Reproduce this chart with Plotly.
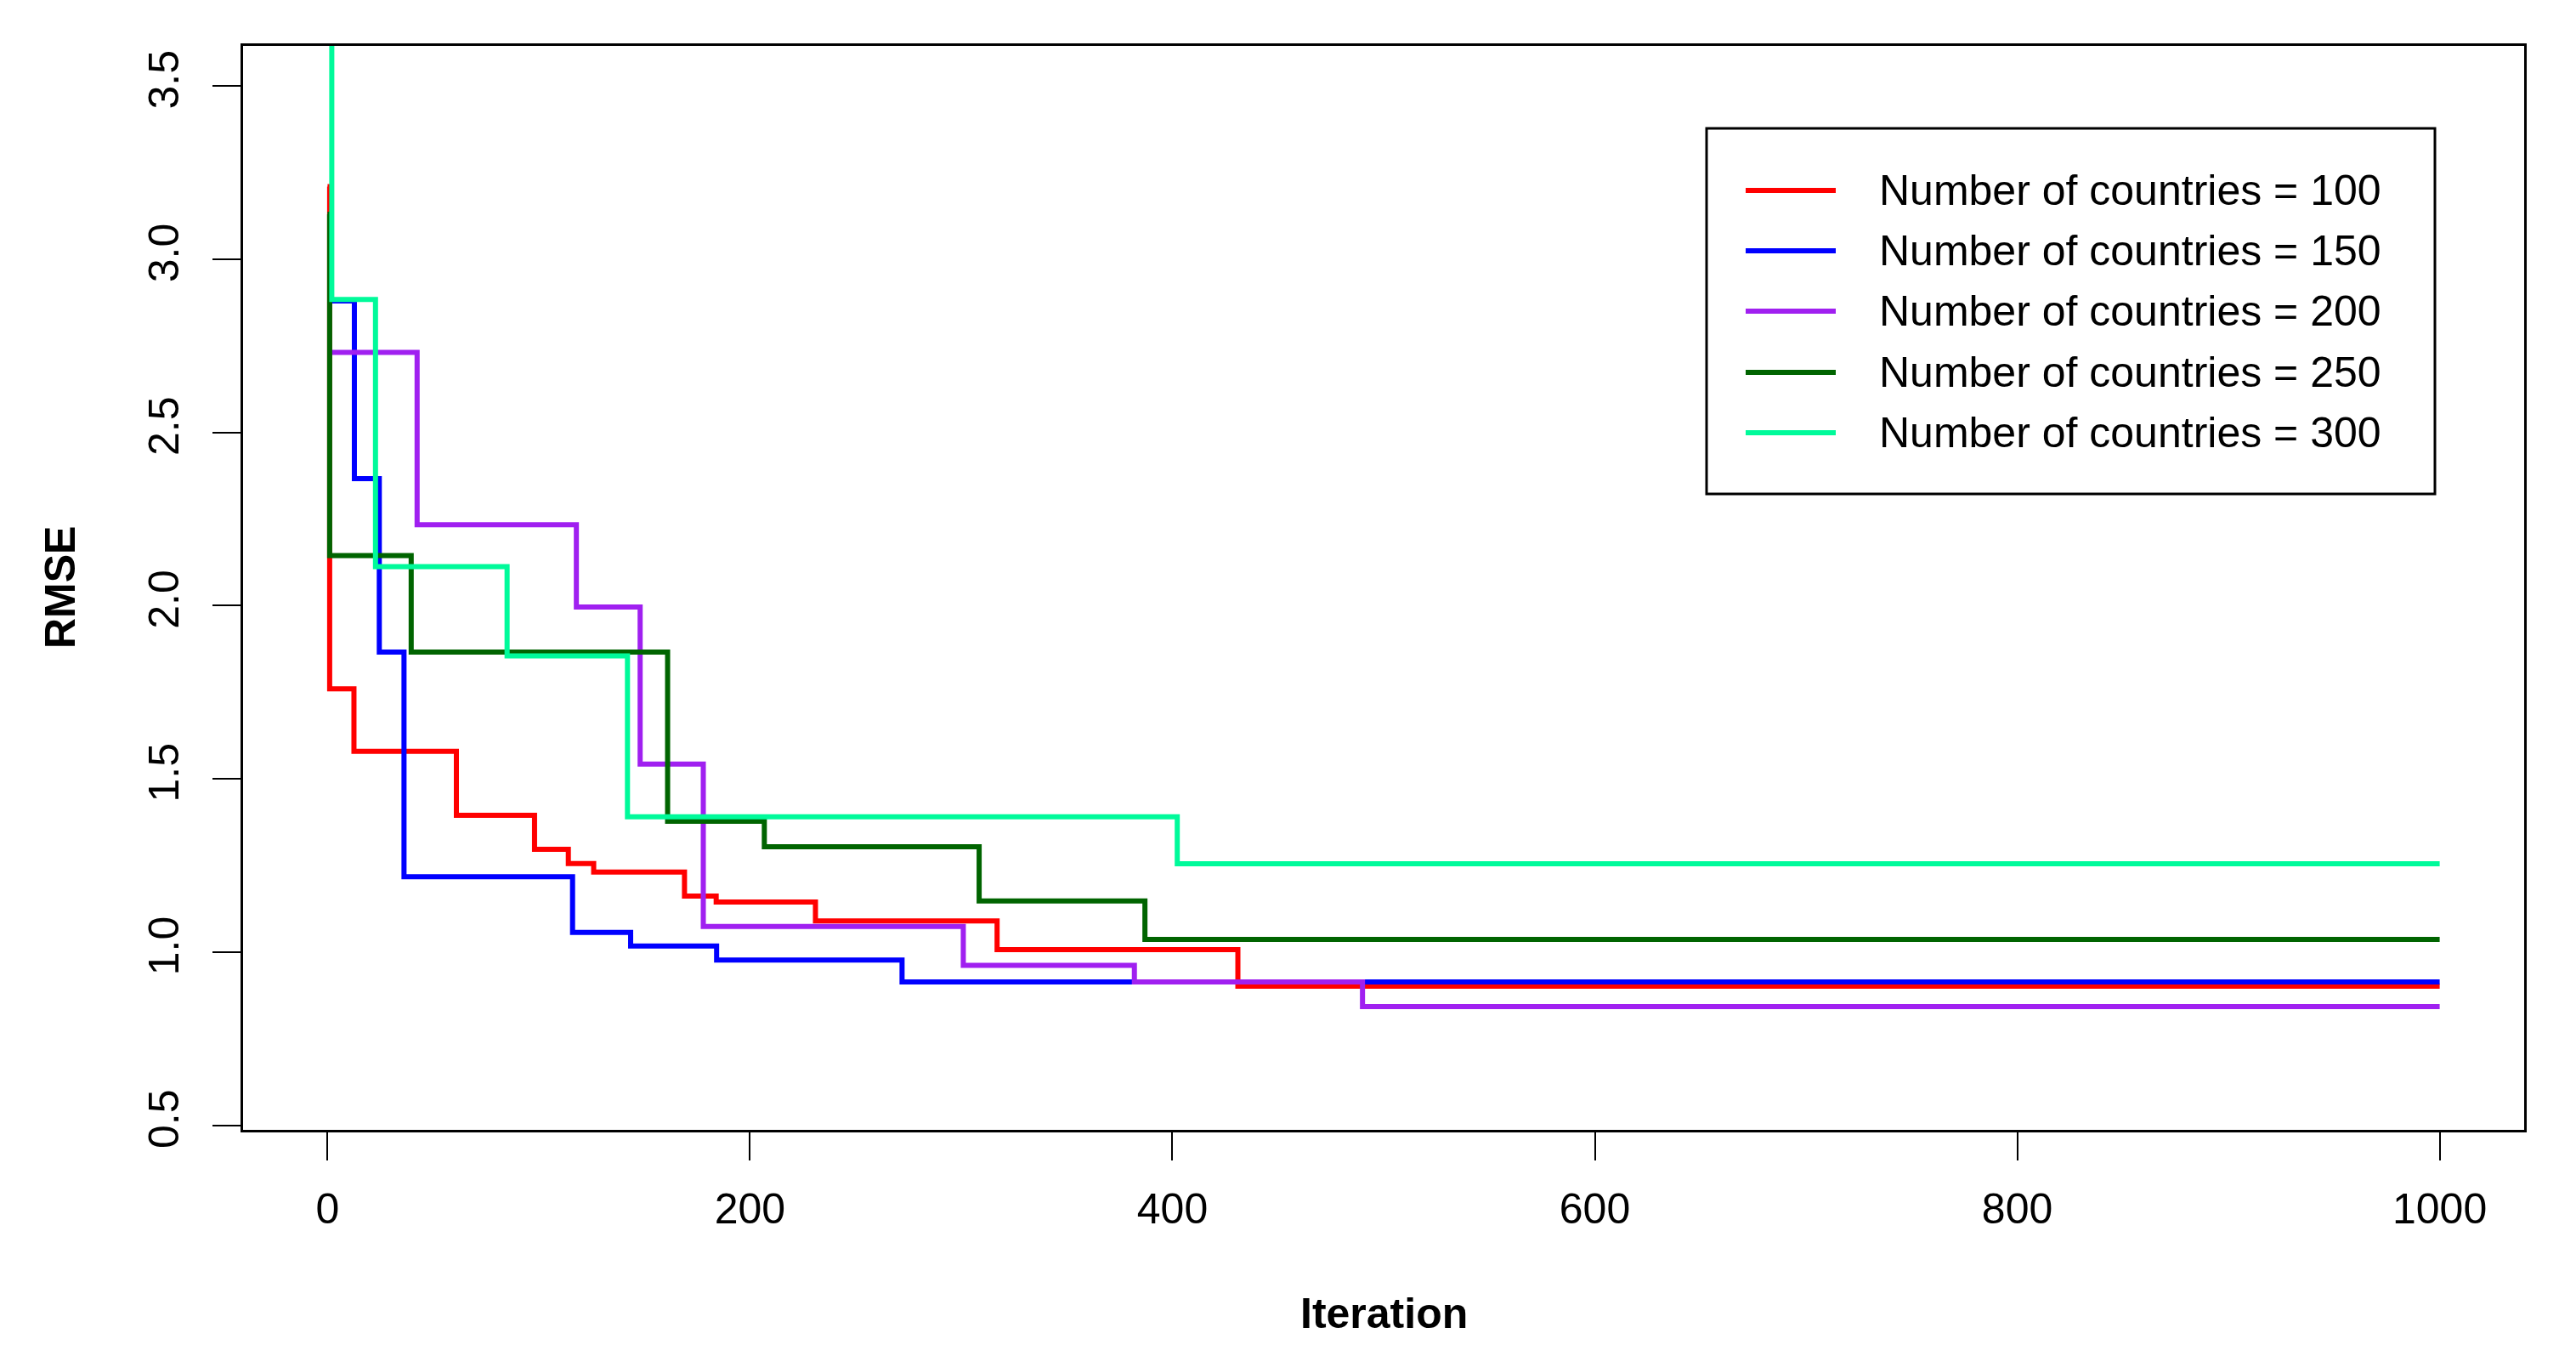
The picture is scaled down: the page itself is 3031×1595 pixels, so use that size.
import plotly.graph_objects as go

# ---- data ----
labels = ["Number of countries = 100", "Number of countries = 150", "Number of countries = 200",
          "Number of countries = 250", "Number of countries = 300"]
colors = ["#FF0000", "#0000FF", "#A020F0", "#006400", "#00FA9A"]

red_x = [0, 1, 12.5, 61, 98, 114, 126, 169, 184, 231, 317, 431, 1000]
red_y = [3.21, 1.76, 1.58, 1.395, 1.297, 1.256, 1.231, 1.162, 1.145, 1.09, 1.007, 0.902, 0.902]

blue_x = [0, 12.7, 24.5, 36.2, 116, 143.5, 184.2, 272, 1000]
blue_y = [2.88, 2.367, 1.866, 1.218, 1.057, 1.018, 0.977, 0.914, 0.914]

purple_x = [0, 42.4, 117.8, 148, 177.9, 301, 382, 490, 1000]
purple_y = [2.731, 2.234, 1.996, 1.543, 1.074, 0.962, 0.914, 0.843, 0.843]

green_x = [0, 1, 39.6, 161, 206.8, 308.5, 387, 1000]
green_y = [3.13, 2.145, 1.866, 1.378, 1.304, 1.148, 1.037, 1.037]

cyan_x = [0, 2, 22.7, 85, 142, 402.3, 1000]
cyan_y = [3.75, 2.884, 2.113, 1.855, 1.391, 1.255, 1.255]

series_x = [red_x, blue_x, purple_x, green_x, cyan_x]
series_y = [red_y, blue_y, purple_y, green_y, cyan_y]

x_ticks = [0, 200, 400, 600, 800, 1000]
y_ticks = [0.5, 1.0, 1.5, 2.0, 2.5, 3.0, 3.5]

# ---- layout geometry (pixels) ----
W, H = 3031, 1595
L, R, T, B = 278, 2962, 46, 1321
FONT = "Liberation Sans"
FS = 50


def px_x(X):
    return (X - L) / (R - L)


def px_y(Y):
    return (B - Y) / (B - T)


fig = go.Figure()
for xs, ys, c, lab in zip(series_x, series_y, colors, labels):
    fig.add_trace(go.Scatter(x=xs, y=ys, mode="lines", line=dict(color=c, width=6, shape="hv"),
                             name=lab, showlegend=False))

axis_common = dict(showline=True, linecolor="black", linewidth=3, mirror=True,
                   ticks="outside", ticklen=33, tickwidth=2, tickcolor="black",
                   showgrid=False, zeroline=False,
                   tickfont=dict(family=FONT, size=FS, color="black"))

fig.update_xaxes(range=[-40, 1040], tickvals=x_ticks, ticklabelstandoff=14, **axis_common)
fig.update_yaxes(range=[0.487, 3.616], tickvals=y_ticks, tickformat=".1f", tickangle=-90,
                 ticklabelstandoff=20, **axis_common)

shapes = []
annotations = []
# legend box
shapes.append(dict(type="rect", xref="paper", yref="paper",
                   x0=px_x(2000), x1=px_x(2857), y0=px_y(573), y1=px_y(143),
                   line=dict(color="black", width=3), fillcolor="white", layer="above"))
row_y = [216, 287, 358, 430, 501]
for ry, c, lab in zip(row_y, colors, labels):
    shapes.append(dict(type="line", xref="paper", yref="paper",
                       x0=px_x(2046), x1=px_x(2152), y0=px_y(ry), y1=px_y(ry),
                       line=dict(color=c, width=6), layer="above"))
    annotations.append(dict(text=lab, xref="paper", yref="paper", x=px_x(2201), y=px_y(ry),
                            xanchor="left", yanchor="middle", showarrow=False,
                            font=dict(family=FONT, size=FS, color="black")))

annotations.append(dict(text="<b>Iteration</b>", xref="paper", yref="paper", x=0.5, y=px_y(1537),
                        xanchor="center", yanchor="middle", showarrow=False,
                        font=dict(family=FONT, size=FS, color="black")))
annotations.append(dict(text="<b>RMSE</b>", xref="paper", yref="paper", x=px_x(63), y=px_y(683),
                        xanchor="center", yanchor="middle", showarrow=False, textangle=-90,
                        font=dict(family=FONT, size=FS, color="black")))

fig.update_layout(width=W, height=H, margin=dict(l=L, r=W - R, t=T, b=H - B, pad=0),
                  plot_bgcolor="white", paper_bgcolor="white",
                  shapes=shapes, annotations=annotations, showlegend=False)

fig.write_html("out.html")
